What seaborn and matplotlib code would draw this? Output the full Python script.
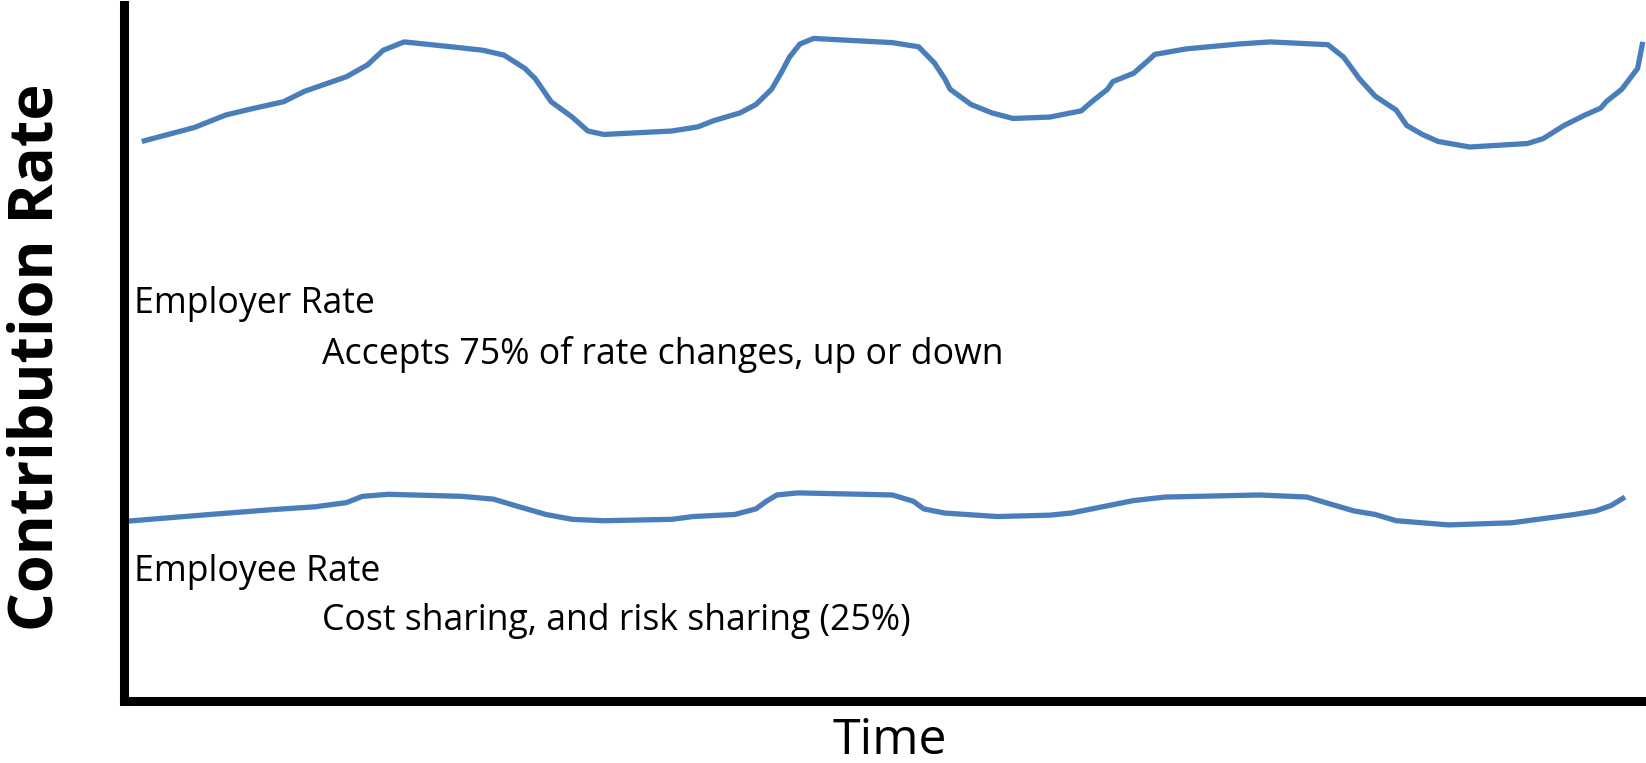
import matplotlib
matplotlib.use("Agg")
import matplotlib.pyplot as plt
import seaborn as sns

# Employer contribution rate over time (upper curve)
employer_time = [1.17, 2.90, 4.62, 6.69, 8.41, 10.48, 11.86, 14.62, 16.0, 17.03, 18.41,
                 21.52, 23.59, 24.97, 26.34, 27.03, 28.07, 29.45, 30.48, 31.52, 36.0,
                 37.72, 38.76, 40.48, 41.52, 42.55, 43.24, 43.72, 44.41, 45.31, 50.48,
                 52.21, 53.24, 53.93, 54.28, 55.66, 57.03, 58.41, 60.83, 62.90, 63.59,
                 64.62, 64.97, 66.34, 67.38, 67.72, 69.79, 73.24, 75.31, 79.10, 80.14,
                 81.17, 82.21, 83.59, 84.28, 85.31, 86.34, 88.41, 92.21, 93.24, 94.62,
                 96.0, 97.03, 97.38, 98.41, 99.45, 99.79]
employer_rate = [80.4, 81.4, 82.4, 84.2, 85.1, 86.1, 87.6, 89.7, 91.4, 93.5, 94.7,
                 94.0, 93.5, 92.8, 90.9, 89.4, 86.1, 83.9, 81.9, 81.4, 81.9,
                 82.5, 83.4, 84.5, 85.7, 87.9, 90.5, 92.5, 94.4, 95.2, 94.6,
                 94.0, 91.7, 89.4, 87.9, 85.7, 84.5, 83.7, 83.9, 84.8, 86.1,
                 87.9, 89.0, 90.2, 92.2, 92.9, 93.7, 94.4, 94.7, 94.3, 92.5,
                 89.4, 86.9, 84.9, 82.7, 81.4, 80.4, 79.6, 80.1, 80.8, 82.7,
                 84.2, 85.2, 86.1, 87.9, 90.9, 94.7]

# Employee contribution rate over time (lower curve)
employee_time = [0.0, 5.66, 9.79, 12.55, 14.62, 15.66, 17.38, 22.21, 24.28, 25.66, 27.72,
                 29.45, 31.52, 36.0, 37.38, 40.14, 41.52, 42.21, 42.90, 44.28, 50.48,
                 51.86, 52.55, 53.93, 57.38, 60.83, 62.21, 63.59, 66.34, 68.41, 74.62,
                 77.72, 79.10, 80.83, 82.21, 83.59, 87.03, 91.17, 93.24, 95.31, 96.69,
                 97.72, 98.62]
employee_rate = [25.8, 26.8, 27.5, 27.9, 28.5, 29.4, 29.7, 29.4, 29.0, 28.1, 26.8,
                 26.1, 25.9, 26.1, 26.5, 26.8, 27.6, 28.7, 29.6, 29.9, 29.6,
                 28.7, 27.6, 27.0, 26.5, 26.7, 27.0, 27.6, 28.8, 29.3, 29.6,
                 29.3, 28.4, 27.3, 26.8, 25.9, 25.3, 25.6, 26.2, 26.8, 27.3,
                 28.1, 29.3]

annotations = [
    ("Employer Rate", 0.69, 57.0),
    ("Accepts 75% of rate changes, up or down", 13.03, 49.8),
    ("Employee Rate", 0.69, 18.55),
    ("Cost sharing, and risk sharing (25%)", 13.03, 11.46),
]

x_title = "Time"
y_title = "Contribution Rate"

sns.set_theme(style="white")
plt.rcParams["font.family"] = ["Open Sans", "DejaVu Sans"]

line_color = "#4a7ebb"

fig = plt.figure(figsize=(16.46, 7.63), dpi=100)
ax = fig.add_axes([0.0753, 0.0813, 0.9247, 0.9121])

sns.lineplot(x=employer_time, y=employer_rate, ax=ax, color=line_color,
             linewidth=3.8, solid_joinstyle="round", solid_capstyle="butt")
sns.lineplot(x=employee_time, y=employee_rate, ax=ax, color=line_color,
             linewidth=3.8, solid_joinstyle="round", solid_capstyle="butt")
for line in ax.get_lines():
    line.set_clip_on(False)

ax.set_xlim(0, 100)
ax.set_ylim(0, 100)
ax.set_xticks([])
ax.set_yticks([])

for side in ("top", "right"):
    ax.spines[side].set_visible(False)
for side in ("left", "bottom"):
    ax.spines[side].set_color("black")
    ax.spines[side].set_linewidth(6.5)
    ax.spines[side].set_capstyle("projecting")

for label, tx, ty in annotations:
    ax.text(tx, ty, label, fontsize=25.7, color="black", ha="left", va="center")

ax.set_xlabel(x_title, fontsize=36, color="black")
ax.xaxis.set_label_coords(0.503, -0.058)
ax.xaxis.label.set_va("center")

ax.set_ylabel(y_title, fontsize=44, fontweight="bold", color="black")
ax.yaxis.set_label_coords(-0.057, 0.494)
ax.yaxis.label.set_va("center")

fig.savefig("out.png", dpi=100, facecolor="white")
